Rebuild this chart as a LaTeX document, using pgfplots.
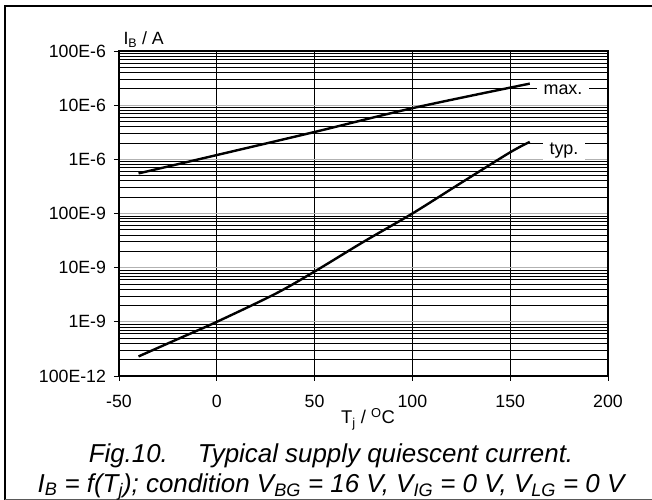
\documentclass[border=0pt]{standalone}
\usepackage{fontspec}
\setmainfont{Liberation Sans}
\usepackage{pgfplots}
\pgfplotsset{compat=1.18}

\begin{document}
\begin{tikzpicture}
% page frame (652 x 500 bp)
\path[use as bounding box] (0,0) rectangle (652bp,500bp);
\draw[line width=2.2bp] (5bp,0) -- (5bp,494bp) -- (652bp,494bp);
\draw[gray!70!black, line width=1.2bp] (5bp,0.6bp) -- (652bp,0.6bp);

\begin{axis}[
    at={(119bp,124bp)}, anchor=south west,
    scale only axis, width=489bp, height=325bp,
    xmin=-50, xmax=200, ymode=log, ymin=1e-10, ymax=1e-4,
    xtick={-50,0,50,100,150,200},
    xticklabels={-50,0,50,100,150,200},
    ytick={1e-10,1e-9,1e-8,1e-7,1e-6,1e-5,1e-4},
    yticklabels={100E-12,1E-9,10E-9,100E-9,1E-6,10E-6,100E-6},
    tick align=outside, xtick pos=bottom, ytick pos=left,
    major tick length=5bp, minor tick length=0pt,
    tick style={black, line width=1bp},
    ticklabel style={font=\fontsize{17.8}{19}\selectfont},
    xticklabel style={yshift=-11bp},
    yticklabel style={xshift=-4.5bp},
    xmajorgrids, ymajorgrids, yminorgrids,
    major grid style={black, line width=0.9bp},
    minor grid style={black, line width=0.8bp},
    axis line style={line width=1.6bp},
    clip=false,
]
  % decade gridlines are grey
  \pgfplotsset{every major y grid/.style={gray!60, line width=1.2bp}}

  % max.
  \addplot[black, line width=2.4bp, smooth] coordinates {
    (-40,5.5e-7) (0,1.2e-6) (50,3.2e-6) (100,8.8e-6) (160,2.5e-5)
  };
  % typ.
  \addplot[black, line width=2.4bp, smooth] coordinates {
    (-40,2.3e-10) (-20,4.8e-10) (0,1e-9) (30,3.3e-9) (50,8.5e-9)
    (75,3e-8) (100,1e-7) (125,3.7e-7) (150,1.35e-6) (160,2.1e-6)
  };

  \node[fill=white, inner xsep=7bp, inner ysep=3bp,
        font=\fontsize{18}{19}\selectfont] at (axis cs:177,1.9e-5) {max.};
  \node[fill=white, inner xsep=7bp, inner ysep=3bp,
        font=\fontsize{18}{19}\selectfont] at (axis cs:177.5,1.47e-6) {typ.};
\end{axis}

% axis titles
\node[anchor=base west, font=\fontsize{17.8}{19}\selectfont]
  at (120bp,455bp) {I\textsubscript{B} / A};
\node[anchor=base, font=\fontsize{18.5}{19}\selectfont]
  at (368bp,76bp) {T\textsubscript{j} / \textsuperscript{O}C};

% caption
\node[anchor=base, font=\fontsize{26}{28}\selectfont\itshape]
  at (331bp,38bp) {Fig.10.\hspace{30bp}Typical supply quiescent current.};
\node[anchor=base, font=\fontsize{26}{28}\selectfont\itshape]
  at (331bp,8bp) {I\textsubscript{B} = f(T\textsubscript{j}); condition V\textsubscript{BG} = 16 V, V\textsubscript{IG} = 0 V, V\textsubscript{LG} = 0 V};
\end{tikzpicture}
\end{document}
